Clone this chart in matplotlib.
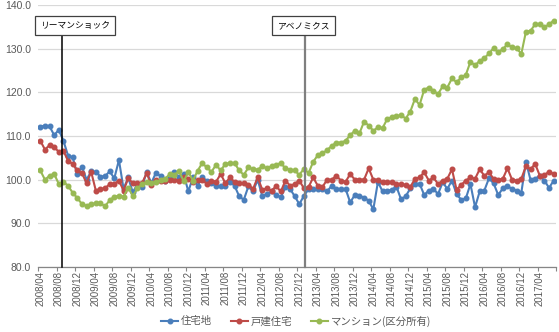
import numpy as np
import pandas as pd
import matplotlib
matplotlib.use("Agg")
import matplotlib.pyplot as plt

plt.rcParams['font.family'] = ['Noto Sans CJK JP', 'DejaVu Sans']

# 月次（2008/04 ～ 2017/07）
months = pd.period_range('2008-04', '2017-07', freq='M').strftime('%Y/%m').tolist()

jutakuchi = [
    112.1, 112.4, 112.2, 110.2, 111.4, 108.9, 105.5, 105.1, 101.2, 103.0,
    100.0, 101.9, 101.8, 100.7, 100.8, 101.9, 100.3, 104.5, 97.9, 100.5,
    97.1, 99.0, 98.4, 101.8, 99.2, 101.6, 100.8, 99.8, 100.3, 101.7,
    100.5, 101.3, 97.3, 100.5, 98.6, 100.5, 99.8, 99.2, 98.5, 98.6,
    98.6, 99.5, 98.6, 96.2, 95.4, 98.5, 97.3, 100.0, 96.2, 96.8,
    97.3, 96.5, 96.0, 98.3, 97.9, 96.2, 94.4, 96.3, 97.8, 97.9,
    97.9, 97.8, 97.3, 98.6, 97.9, 97.8, 97.9, 94.8, 96.5, 96.3,
    95.9, 95.2, 93.2, 99.5, 97.3, 97.4, 97.7, 98.4, 95.5, 96.2,
    98.0, 98.9, 99.1, 96.5, 97.5, 97.9, 96.7, 99.4, 97.9, 99.8,
    96.7, 95.4, 95.7, 99.0, 93.7, 97.3, 97.5, 100.3, 99.2, 96.5,
    98.0, 98.5, 97.9, 97.5, 97.0, 104.1, 99.9, 100.2, 100.9, 99.8,
    98.1, 99.8,
]

kodate = [
    108.9, 106.9, 107.9, 107.4, 106.4, 106.6, 104.3, 103.6, 102.1, 101.5,
    99.2, 101.8, 97.5, 97.9, 98.0, 99.0, 99.0, 99.8, 97.5, 100.3,
    99.2, 99.2, 99.2, 101.5, 98.8, 100.0, 99.8, 99.8, 100.0, 100.0,
    99.8, 100.7, 100.2, 99.5, 100.0, 100.0, 99.0, 99.8, 99.5, 101.3,
    99.2, 100.5, 99.5, 99.2, 99.2, 98.8, 97.9, 100.5, 97.7, 98.0,
    97.5, 98.5, 97.3, 99.8, 98.6, 99.0, 99.8, 98.0, 98.3, 100.5,
    98.6, 98.3, 100.0, 100.0, 100.9, 99.8, 99.5, 101.3, 100.0, 100.0,
    100.0, 102.6, 100.0, 100.0, 99.4, 99.5, 99.4, 99.0, 99.0, 98.8,
    98.3, 100.2, 100.5, 101.7, 99.8, 100.5, 99.0, 99.8, 100.2, 102.4,
    97.7, 98.8, 99.8, 100.5, 100.2, 102.4, 100.9, 101.7, 100.2, 100.0,
    100.2, 102.6, 100.0, 99.8, 100.2, 103.1, 102.4, 103.6, 100.9, 101.1,
    101.8, 101.3,
]

mansion = [
    102.1, 100.0, 100.9, 101.3, 99.0, 99.5, 98.6, 97.0, 95.8, 94.4,
    94.0, 94.4, 94.6, 94.6, 93.9, 95.3, 96.1, 96.3, 96.1, 98.2,
    96.2, 98.0, 98.9, 99.4, 99.3, 99.4, 99.9, 100.2, 101.3, 101.1,
    102.0, 99.6, 101.8, 99.8, 102.0, 103.8, 102.8, 101.8, 103.4, 102.1,
    103.6, 103.8, 103.8, 102.1, 101.1, 102.8, 102.4, 102.3, 103.1, 102.6,
    103.1, 103.4, 103.8, 102.6, 102.3, 102.1, 101.1, 102.5, 101.5, 104.1,
    105.6, 106.0, 106.8, 107.7, 108.5, 108.5, 108.9, 110.2, 111.2, 110.6,
    113.3, 112.4, 111.2, 112.0, 111.8, 113.9, 114.3, 114.5, 114.8, 114.0,
    115.6, 118.5, 117.1, 120.6, 121.1, 120.4, 119.6, 121.4, 121.1, 123.2,
    122.3, 123.4, 124.0, 127.0, 126.2, 127.2, 127.8, 128.9, 130.1, 129.2,
    129.9, 131.0, 130.3, 130.1, 128.8, 133.9, 134.1, 135.6, 135.6, 134.9,
    135.6, 136.4,
]

series = [
    ('住宅地', jutakuchi, '#4A7EBB'),
    ('戸建住宅', kodate, '#BE4B48'),
    ('マンション(区分所有)', mansion, '#98B954'),
]

# イベント（位置は月のインデックス）
events = [('リーマンショック', 4.7, 7.5, 'black', 1.1),
          ('アベノミクス', 57.2, 57.0, '#7F7F7F', 1.6)]

fig = plt.figure(figsize=(5.59, 3.32), dpi=100)
ax = fig.add_axes([38 / 559, 65 / 332, 518 / 559, 262 / 332])

x = np.arange(len(months))
for name, vals, col in series:
    ax.plot(x, vals, color=col, lw=1.5, marker='o', ms=3.3, mec=col, mfc=col,
            label=name, zorder=3)

ax.set_ylim(80, 140)
ax.set_xlim(-0.5, len(months) - 0.5)
ax.set_yticks(np.arange(80, 141, 10))
ax.set_yticklabels([f'{v:.1f}' for v in np.arange(80, 141, 10)],
                   family='Liberation Sans')
ax.grid(axis='y', color='#D9D9D9', lw=0.9, zorder=0)
ax.set_axisbelow(True)

ax.set_xticks(x[::4])
ax.set_xticklabels(months[::4], rotation=90, family='Liberation Sans')
ax.set_xticks(np.arange(-0.5, len(months), 4), minor=True)
ax.tick_params(axis='x', which='major', length=0, pad=3, labelsize=7, colors='#595959')
ax.tick_params(axis='x', which='minor', length=3, color='#868686', width=0.8)
ax.tick_params(axis='y', length=0, pad=5, labelsize=7.5, colors='#595959')

for s in ['top', 'right', 'left']:
    ax.spines[s].set_visible(False)
ax.spines['bottom'].set_color('#868686')
ax.spines['bottom'].set_linewidth(0.9)

for label, xline, xbox, lcol, lw in events:
    ax.plot([xline, xline], [80, 136.4], color=lcol, lw=lw, zorder=4, clip_on=False)
    ax.text(xbox, 135.3, label, ha='center', va='center', fontsize=6.3, zorder=5,
            bbox=dict(boxstyle='square,pad=0.6', fc='white', ec='#404040', lw=0.9))

fig.legend(loc='lower center', bbox_to_anchor=(0.53, -0.012), ncol=3, frameon=False,
           fontsize=7.5, handlelength=1.6, columnspacing=1.8, handletextpad=0.3,
           labelcolor='#595959')

fig.savefig('out.png', dpi=100)
